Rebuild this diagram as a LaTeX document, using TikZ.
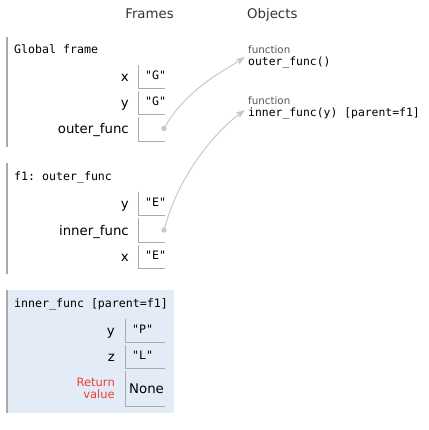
\documentclass[tikz,border=0pt]{standalone}
\usepackage{fontspec}
\setmainfont{DejaVu Sans}
\setmonofont{DejaVu Sans Mono}
\usetikzlibrary{arrows.meta}

\definecolor{hdr}{HTML}{333333}
\definecolor{rulegray}{HTML}{AAAAAA}
\definecolor{typelbl}{HTML}{555555}
\definecolor{retval}{HTML}{E93F34}
\definecolor{curframe}{HTML}{E2EBF6}
\definecolor{ptr}{HTML}{C8C8C8}

\tikzset{
  header/.style={inner sep=0pt, text=hdr, font=\fontsize{13.3}{16}\selectfont},
  frametitle/.style={anchor=base west, inner sep=0pt, font=\fontsize{11.6}{14}\ttfamily},
  varlbl/.style={anchor=base east, inner sep=0pt, font=\fontsize{13.3}{16}\selectfont},
  strval/.style={anchor=base west, inner sep=0pt, font=\fontsize{11.6}{14}\ttfamily},
  cellbox/.style={inner sep=0pt, minimum width=26pt, minimum height=23pt},
  widecell/.style={cellbox, minimum width=39pt},
  cellrule/.style={draw=rulegray, line width=1pt},
  framebar/.style={draw=rulegray, line width=1.5pt},
  ptrdot/.style={circle, fill=ptr, inner sep=0pt, minimum size=5.4pt},
  ptrline/.style={draw=ptr, line width=1pt, -{Stealth[length=9pt,width=6.5pt,inset=2pt]}},
  typelabel/.style={anchor=base west, inner sep=0pt, text=typelbl, font=\fontsize{10.3}{12}\selectfont},
  objtext/.style={anchor=base west, inner sep=0pt, font=\fontsize{11.4}{14}\ttfamily},
}

\begin{document}
\begin{tikzpicture}[x=1pt, y=-1pt]
\useasboundingbox (0,0) rectangle (428,430);

% column headings
\node[header, anchor=base] (hframes) at (149.5,18.3) {Frames};
\node[header, anchor=base west] (hobjects) at (247,18.3) {Objects};

% ---- global frame ----
\draw[framebar] (7,37) -- (7,147);
\node[frametitle] (tglobal) at (14,54) {Global frame};

\node[cellbox] (gx) at (152,76.5) {};
\draw[cellrule] (gx.north west) |- (gx.south east);
\node[varlbl] (lgx) at (129,81.5) {x};
\node[strval] (vgx) at (145,79.5) {"G"};

\node[cellbox] (gy) at (152,102.5) {};
\draw[cellrule] (gy.north west) |- (gy.south east);
\node[varlbl] (lgy) at (129,107.5) {y};
\node[strval] (vgy) at (145,105.5) {"G"};

\node[cellbox, minimum height=24pt] (gouter) at (152,129) {};
\draw[cellrule] (gouter.north west) |- (gouter.south east);
\node[varlbl] (lgouter) at (129,134) {outer\_func};
\node[ptrdot] (dotouter) at (164,128.5) {};

% ---- frame f1 ----
\draw[framebar] (7,163) -- (7,274);
\node[frametitle] (tf1) at (14,181) {f1: outer\_func};

\node[cellbox] (fy) at (152,203.5) {};
\draw[cellrule] (fy.north west) |- (fy.south east);
\node[varlbl] (lfy) at (129,208.5) {y};
\node[strval] (vfy) at (145,206.5) {"E"};

\node[cellbox, minimum height=24pt] (finner) at (152,230) {};
\draw[cellrule] (finner.north west) |- (finner.south east);
\node[varlbl] (lfinner) at (129,235) {inner\_func};
\node[ptrdot] (dotinner) at (164,230) {};

\node[cellbox] (fx) at (152,256.5) {};
\draw[cellrule] (fx.north west) |- (fx.south east);
\node[varlbl] (lfx) at (129,261.5) {x};
\node[strval] (vfx) at (145,259.5) {"E"};

% ---- current frame: inner_func ----
\fill[curframe] (7,290) rectangle (174,413);
\draw[framebar] (7,290) -- (7,413);
\node[frametitle] (tinner) at (14,307) {inner\_func [parent=f1]};

\node[widecell] (iy) at (145.5,330.5) {};
\draw[cellrule] (iy.north west) |- (iy.south east);
\node[varlbl] (liy) at (115,335.5) {y};
\node[strval] (viy) at (132,333.5) {"P"};

\node[widecell] (iz) at (145.5,356.5) {};
\draw[cellrule] (iz.north west) |- (iz.south east);
\node[varlbl] (liz) at (115,361.5) {z};
\node[strval] (viz) at (132,359.5) {"L"};

\node[widecell, minimum height=35pt] (iret) at (145.5,388.5) {};
\draw[cellrule] (iret.north west) |- (iret.south east);
\node[anchor=east, inner sep=0pt, align=right, text=retval,
      font=\fontsize{11.5}{12}\selectfont] (lret) at (115,388) {Return\\value};
\node[anchor=base west, inner sep=0pt, font=\fontsize{13.3}{16}\selectfont] (vret) at (129,393.5) {None};

% ---- heap objects ----
\node[typelabel] (ty1) at (248,53.3) {function};
\node[objtext] (obj1) at (248,66) {outer\_func()};
\node[typelabel] (ty2) at (248,104.3) {function};
\node[objtext] (obj2) at (248,117) {inner\_func(y) [parent=f1]};

\coordinate (tip1) at (245,57);
\coordinate (tip2) at (245,110);

% ---- pointers ----
\draw[ptrline] (dotouter.center) .. controls (185,90) and (225,70) .. (tip1);
\draw[ptrline] (dotinner.center) .. controls (180,170) and (220,128) .. (tip2);
\end{tikzpicture}
\end{document}
